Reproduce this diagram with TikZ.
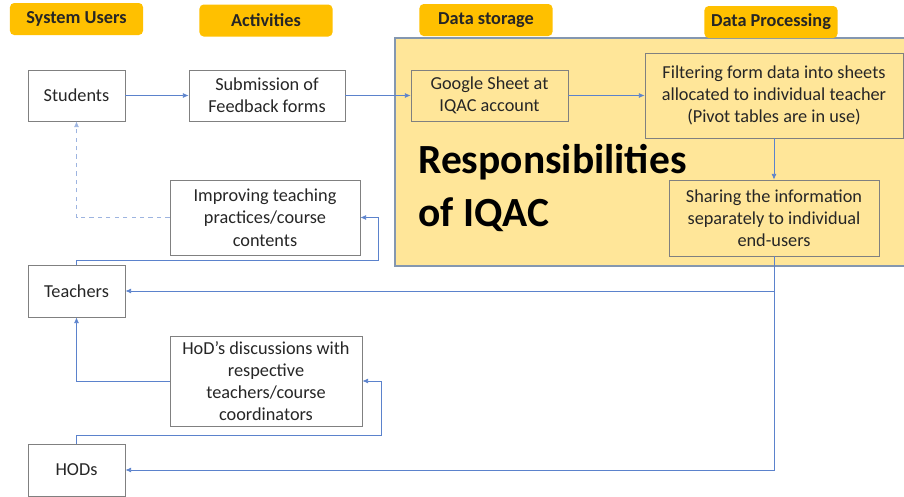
\documentclass[tikz,border=0pt]{standalone}
\usepackage{fontspec}
\setmainfont{Carlito}
\usetikzlibrary{arrows.meta}

\definecolor{tagfill}{HTML}{FFC000}
\definecolor{iqacfill}{HTML}{FFE699}
\definecolor{iqacline}{HTML}{8497B0}
\definecolor{flow}{HTML}{5B82CC}
\definecolor{txt}{HTML}{262626}

\begin{document}
\begin{tikzpicture}[x=0.025cm, y=-0.025cm,
        box/.style={draw=black!50, line width=0.6pt, fill=white, align=center, text=txt,
            inner sep=2pt, font=\fontsize{13}{15.8}\selectfont},
        tagbox/.style={fill=tagfill, rounded corners=3pt, minimum width=3.325cm, minimum height=0.8cm,
            text=txt, font=\bfseries\fontsize{13}{15}\selectfont},
        flowline/.style={draw=flow, line width=0.5pt, -{Latex[length=4pt,width=3.5pt]}}]
        \useasboundingbox (0,0) rectangle (904,496);

        \filldraw[draw=iqacline, fill=iqacfill, line width=1.2pt] (395,38) rectangle (912,266);
        \node[anchor=north west, align=left, inner sep=0pt, text=black,
            font=\bfseries\fontsize{29.5}{38}\selectfont] (resp) at (418,144) {Responsibilities\\of IQAC};

        \node[tagbox] (users) at (76.5,19) {System Users};
        \node[tagbox] (acts) at (266,20.5) {Activities};
        \node[tagbox] (store) at (486,20) {Data storage};
        \node[tagbox] (proc) at (771,22) {Data Processing};

        \node[box, minimum width=2.425cm, minimum height=1.275cm] (students) at (76.5,95.5) {Students};
        \node[box, minimum width=2.425cm, minimum height=1.3cm] (teachers) at (76.5,291) {Teachers};
        \node[box, minimum width=2.425cm, minimum height=1.3cm] (hods) at (76.5,470) {HODs};

        \node[box, minimum width=3.9cm, minimum height=1.275cm] (submit) at (267,95.5) {Submission of\\Feedback forms};
        \node[box, minimum width=4.75cm, minimum height=1.875cm] (improve) at (265,217.5) {Improving teaching\\practices/course\\contents};
        \node[box, minimum width=4.8cm, minimum height=2.25cm, inner sep=1pt] (discuss) at (266,381) {HoD’s discussions with\\respective\\teachers/course\\coordinators};

        \node[box, fill=none, minimum width=3.925cm, minimum height=1.275cm] (sheet) at (489.5,95.5) {Google Sheet at\\IQAC account};
        \node[box, fill=none, minimum width=6.45cm, minimum height=2.125cm] (filter) at (774,95.5) {Filtering form data into sheets\\allocated to individual teacher\\(Pivot tables are in use)};
        \node[box, fill=none, minimum width=5.25cm, minimum height=1.9cm] (share) at (774,218) {Sharing the information\\separately to individual\\end-users};

        \coordinate (tloop) at (378,260);
        \coordinate (hloop) at (381,435);

        \draw[flowline] (students.east) -- (submit.west);
        \draw[flowline] (submit.east) -- (sheet.west);
        \draw[flowline] (sheet.east) -- (filter.west);
        \draw[flowline] (filter.south) -- (share.north);
        \draw[flowline] (share.south) |- (teachers.east);
        \draw[flowline] (share.south) |- (hods.east);
        \draw[flowline] (teachers.north) |- (tloop) |- (improve.east);
        \draw[flowline, draw=flow!60, dashed] (improve.west) -| (students.south);
        \draw[flowline] (discuss.west) -| (teachers.south);
        \draw[flowline] (hods.north) |- (hloop) |- (discuss.east);
    \end{tikzpicture}
\end{document}
